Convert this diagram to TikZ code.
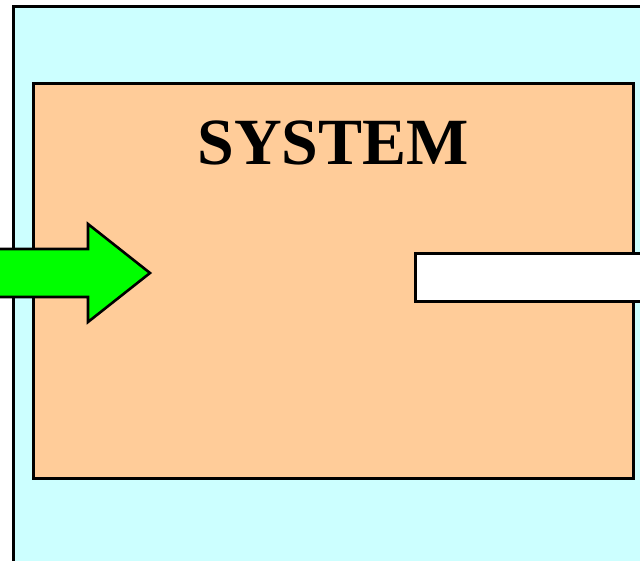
\documentclass[tikz,border=0pt]{standalone}
\usepackage{fontspec}
\setmainfont{Liberation Serif}
\usepackage{tikz}
\usetikzlibrary{positioning}
\definecolor{envcyan}{HTML}{CCFFFF}
\definecolor{syspeach}{HTML}{FFCC99}
\definecolor{ingreen}{HTML}{00FF00}

\begin{document}
\begin{tikzpicture}[
  x=1pt, y=-1pt,
  edge/.style={draw=black, line width=2.6pt, line join=miter},
  env/.style={edge, fill=envcyan},
  sysbox/.style={edge, fill=syspeach, rectangle, anchor=north west,
    minimum width=600pt, minimum height=395pt, inner sep=0pt},
  outbar/.style={edge, fill=white, rectangle, anchor=north west,
    minimum width=300pt, minimum height=48pt, inner sep=0pt},
  inarrow/.style={edge, fill=ingreen}
]
\useasboundingbox[clip] (0,0) rectangle (640,561);
% environment around the system
\draw[env] (13.5,6.5) rectangle (720,620);
\node[sysbox] (system) at (32,82) {};
\node[font=\bfseries\fontsize{66}{78}\selectfont, inner sep=0pt,
  below=39pt of system.north] (title) {SYSTEM};
% input arrow and output bar
\coordinate (tip) at (150,273);
\draw[inarrow] (-10,249) -- (88,249) -- (88,224) -- (tip)
  -- (88,322) -- (88,297) -- (-10,297) -- cycle;
\node[outbar] (output) at (414,252) {};
\end{tikzpicture}
\end{document}
